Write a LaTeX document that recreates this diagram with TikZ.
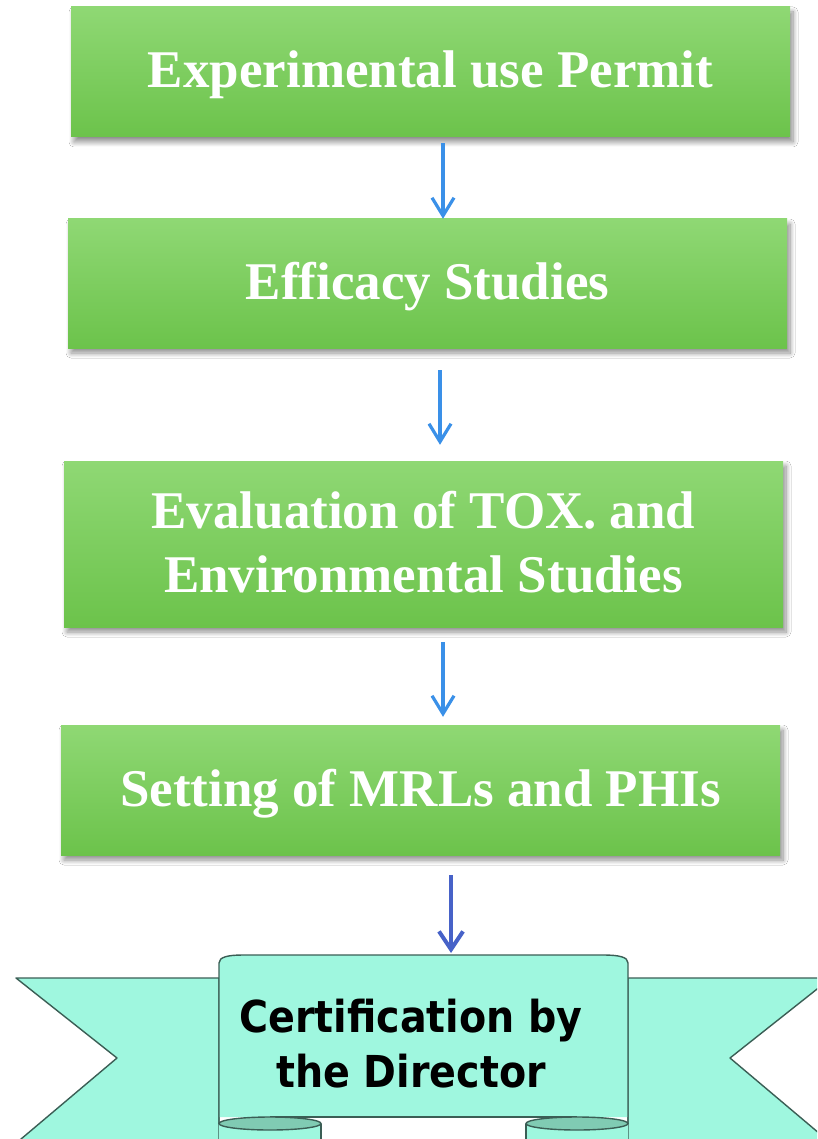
\documentclass[tikz,border=0pt]{standalone}
\usepackage{fontspec}
\setmainfont{Liberation Serif}
\newfontfamily\ribbonfont{DejaVu Sans}[FakeStretch=0.9]
\usetikzlibrary{arrows.meta,shadows.blur,calc}
\definecolor{gtop}{HTML}{8FD874}
\definecolor{gmid}{HTML}{7DD35C}
\definecolor{gbot}{HTML}{6CC34B}
\definecolor{arrblue}{HTML}{3A90E8}
\definecolor{arrdark}{HTML}{4762C8}
\definecolor{ribfill}{HTML}{9FF7DF}
\definecolor{ribdark}{HTML}{80CBB3}
\definecolor{ribline}{HTML}{3B5E55}
\tikzset{
  gbox/.style={rectangle, inner sep=0pt, shading=axis, top color=gtop, middle color=gmid, bottom color=gbot,
    blur shadow={shadow xshift=3pt, shadow yshift=-5pt, shadow blur steps=10, shadow blur radius=5pt, shadow opacity=45},
    minimum width=719pt, text=white, align=center,
    font=\fontsize{53}{64}\selectfont\bfseries, text height=42pt, text depth=10pt},
  arr/.style={draw=arrblue, line width=3.2pt, -{Straight Barb[length=18pt,width=22pt,line width=3.2pt]}},
  arrd/.style={draw=arrdark, line width=4pt, -{Straight Barb[length=18pt,width=24pt,line width=4pt]}},
  rib/.style={fill=ribfill, draw=ribline, line width=1.4pt, line join=round},
  ribd/.style={fill=ribdark, draw=ribline, line width=1.4pt},
  certtext/.style={align=center, inner sep=0pt, text=black,
    font=\ribbonfont\bfseries\fontsize{44}{55}\selectfont, text height=88pt, text depth=11pt}
}
\begin{document}
\begin{tikzpicture}[x=1pt,y=-1pt]
\useasboundingbox (0,0) rectangle (817,1139);
\clip (0,0) rectangle (817,1139);
\fill[white] (0,0) rectangle (817,1139);

% green boxes
\node[gbox, minimum height=130pt] (b1) at (430.5,72) {Experimental use Permit};
\node[gbox, minimum height=129pt] (b2) at (427.5,283.5) {Efficacy Studies};
\node[gbox, minimum height=166pt, text height=106pt] (b3) at (423.5,544) {Evaluation of TOX. and\\Environmental Studies};
\node[gbox, minimum height=130pt] (b4) at (420.5,790) {Setting of MRLs and PHIs};

% ribbon wings
\path[rib] (16,978) -- (219,978) -- (219,1150) -- (8,1150) -- (117,1058) -- cycle;
\path[rib] (831,978) -- (628,978) -- (628,1150) -- (839,1150) -- (730,1058) -- cycle;
% feet
\fill[ribfill] (219,1123.5) rectangle (321,1150);
\fill[ribfill] (526,1123.5) rectangle (628,1150);
\draw[ribline, line width=1.4pt] (321,1123.5) -- (321,1150);
\draw[ribline, line width=1.4pt] (526,1123.5) -- (526,1150);
% central panel
\fill[ribfill] (219,1123.5) -- (219,963) .. controls (219,957) and (228,955) .. (243,955) -- (603,955)
  .. controls (619,955) and (628,957) .. (628,963) -- (628,1123.5) -- (628,1117) -- (219,1117) -- cycle;
\draw[ribline, line width=1.4pt, line join=round] (219,1123.5) -- (219,963)
  .. controls (219,957) and (228,955) .. (243,955) -- (603,955)
  .. controls (619,955) and (628,957) .. (628,963) -- (628,1123.5);
\draw[ribline, line width=1.4pt] (270,1117) -- (577,1117);
\path[ribd] (270,1123.5) ellipse [x radius=51, y radius=6.5];
\path[ribd] (577,1123.5) ellipse [x radius=51, y radius=6.5];
\coordinate (rtop) at (451,953);
\node[certtext] (cert) at (411,1048.5) {Certification by\\the Director};

% arrows
\draw[arr] ([xshift=12.5pt,yshift=-6pt]b1.south) -- ([xshift=15.5pt]b2.north);
\draw[arr] ([xshift=12.5pt,yshift=-22pt]b2.south) -- ([xshift=16.5pt,yshift=16pt]b3.north);
\draw[arr] ([xshift=19.5pt,yshift=-15pt]b3.south) -- ([xshift=22.5pt,yshift=8pt]b4.north);
\draw[arrd] ([xshift=30.5pt,yshift=-20pt]b4.south) -- (rtop);
\end{tikzpicture}
\end{document}
